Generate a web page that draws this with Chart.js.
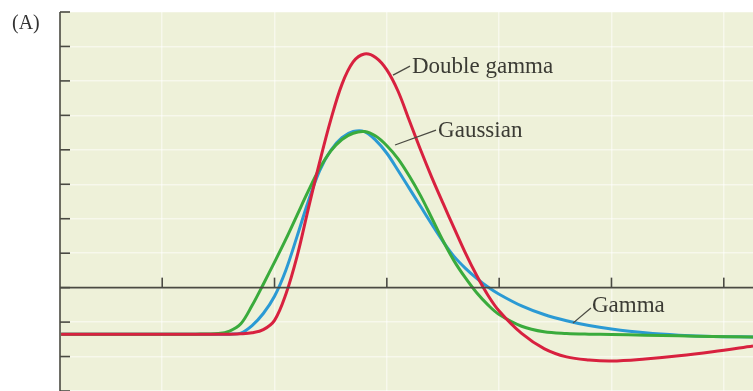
<!DOCTYPE html>
<html>
<head>
<meta charset="utf-8">
<script src="https://cdn.jsdelivr.net/npm/chart.js@4.4.1/dist/chart.umd.min.js"></script>
<style>
  html, body { margin: 0; padding: 0; background: #ffffff; }
  #wrap { position: relative; width: 753px; height: 391px; }
</style>
</head>
<body>
<div id="wrap"><canvas id="hrfChart" width="753" height="391"></canvas></div>
<script>
// Tempo (unidades arbitrárias) em que as curvas foram lidas
const timePoints = [0.1, 1.0, 1.3, 1.5, 1.6, 1.7, 1.8, 1.9, 2.0, 2.1, 2.2, 2.3, 2.4, 2.5, 2.6, 2.7, 2.8, 2.9, 3.0,
  3.1, 3.2, 3.3, 3.4, 3.5, 3.6, 3.7, 3.8, 3.9, 4.0, 4.2, 4.4, 4.6, 4.8, 5.0, 5.3, 5.6, 5.9, 6.26];

// Resposta de cada modelo
const doubleGamma = [-1.35, -1.35, -1.35, -1.35, -1.35, -1.34, -1.31, -1.22, -0.95, -0.20, 0.90, 2.28, 3.62, 4.86,
  5.90, 6.55, 6.78, 6.68, 6.32, 5.70, 4.85, 4.00, 3.20, 2.45, 1.72, 1.00, 0.35, -0.22, -0.68, -1.33, -1.77,
  -2.01, -2.10, -2.13, -2.07, -1.98, -1.86, -1.69];
const gaussian = [-1.35, -1.35, -1.35, -1.33, -1.26, -1.05, -0.52, 0.10, 0.74, 1.40, 2.10, 2.80, 3.45, 3.96,
  4.30, 4.48, 4.53, 4.40, 4.12, 3.74, 3.24, 2.67, 2.02, 1.36, 0.77, 0.28, -0.15, -0.50, -0.78, -1.12, -1.28,
  -1.33, -1.35, -1.36, -1.38, -1.40, -1.42, -1.43];
const gamma = [-1.35, -1.35, -1.35, -1.35, -1.35, -1.32, -1.10, -0.75, -0.25, 0.50, 1.48, 2.50, 3.38, 3.98,
  4.35, 4.53, 4.53, 4.28, 3.90, 3.40, 2.88, 2.36, 1.84, 1.34, 0.90, 0.56, 0.27, 0.02, -0.19, -0.53, -0.78,
  -0.96, -1.10, -1.20, -1.31, -1.38, -1.42, -1.43];

// Marcas dos eixos
const xTicks = [1, 2, 3, 4, 5, 6];
const yTicks = [-3, -2, -1, 0, 1, 2, 3, 4, 5, 6, 7, 8];

// Rótulos das curvas: texto e ponta da linha guia (em unidades dos dados)
const curveLabels = [
  { text: 'Double gamma', at: [3.224, 6.23], from: [3.055, 6.17], to: [3.206, 6.43] },
  { text: 'Gaussian', at: [3.456, 4.37], from: [3.073, 4.14], to: [3.438, 4.57] },
  { text: 'Gamma', at: [4.826, -0.71], from: [4.657, -1.03], to: [4.817, -0.59] }
];

const toPoints = ys => timePoints.map((t, i) => ({ x: t, y: ys[i] }));

const paperPlugin = {
  id: 'paper',
  beforeDraw(chart) {
    const { ctx, chartArea: a } = chart;
    ctx.save();
    ctx.fillStyle = '#eef1d9';
    ctx.fillRect(a.left, a.top, a.right - a.left, a.bottom - a.top);
    ctx.restore();
  },
  afterDatasetsDraw(chart) {
    const { ctx, chartArea: a, scales: { x, y } } = chart;
    const y0 = y.getPixelForValue(0);
    ctx.save();
    ctx.strokeStyle = '#4a4a42';
    ctx.lineWidth = 1.6;
    // eixo vertical
    ctx.beginPath();
    ctx.moveTo(a.left, a.top);
    ctx.lineTo(a.left, a.bottom);
    ctx.stroke();
    yTicks.forEach(v => {
      const py = y.getPixelForValue(v);
      ctx.beginPath();
      ctx.moveTo(a.left, py);
      ctx.lineTo(a.left + 10, py);
      ctx.stroke();
    });
    // eixo horizontal no zero
    ctx.beginPath();
    ctx.moveTo(a.left, y0);
    ctx.lineTo(a.right, y0);
    ctx.stroke();
    xTicks.forEach(v => {
      const px = x.getPixelForValue(v);
      ctx.beginPath();
      ctx.moveTo(px, y0);
      ctx.lineTo(px, y0 - 10);
      ctx.stroke();
    });

    // rótulos das curvas
    ctx.fillStyle = '#3b3b34';
    ctx.font = '23px "Liberation Serif", "DejaVu Serif", serif';
    ctx.textBaseline = 'alphabetic';
    ctx.lineWidth = 1.3;
    curveLabels.forEach(l => {
      ctx.beginPath();
      ctx.moveTo(x.getPixelForValue(l.from[0]), y.getPixelForValue(l.from[1]));
      ctx.lineTo(x.getPixelForValue(l.to[0]), y.getPixelForValue(l.to[1]));
      ctx.stroke();
      ctx.fillText(l.text, x.getPixelForValue(l.at[0]), y.getPixelForValue(l.at[1]));
    });

    ctx.fillStyle = '#333333';
    ctx.font = '20px "Liberation Serif", "DejaVu Serif", serif';
    ctx.fillText('(A)', 12, 29);
    ctx.restore();
  }
};

const lineStyle = {
  borderWidth: 3,
  pointRadius: 0,
  fill: false,
  tension: 0.35
};

new Chart(document.getElementById('hrfChart').getContext('2d'), {
  type: 'line',
  data: {
    datasets: [
      { label: 'Double gamma', data: toPoints(doubleGamma), borderColor: '#d8213f', ...lineStyle },
      { label: 'Gaussian', data: toPoints(gaussian), borderColor: '#3aab3c', ...lineStyle },
      { label: 'Gamma', data: toPoints(gamma), borderColor: '#2b9ad4', ...lineStyle }
    ]
  },
  options: {
    responsive: false,
    animation: false,
    layout: { padding: { left: 60, top: 12, right: 0, bottom: 0 } },
    plugins: { legend: { display: false }, tooltip: { enabled: false } },
    scales: {
      x: {
        type: 'linear',
        min: 0.09,
        max: 6.26,
        ticks: { display: false, stepSize: 1 },
        afterBuildTicks: s => { s.ticks = xTicks.map(v => ({ value: v })); },
        grid: { color: 'rgba(255,255,255,0.5)', lineWidth: 1.5, drawTicks: false },
        border: { display: false }
      },
      y: {
        min: -3,
        max: 8,
        ticks: { display: false, stepSize: 1 },
        afterBuildTicks: s => { s.ticks = yTicks.map(v => ({ value: v })); },
        grid: { color: 'rgba(255,255,255,0.5)', lineWidth: 1.5, drawTicks: false },
        border: { display: false }
      }
    }
  },
  plugins: [paperPlugin]
});
</script>
</body>
</html>
